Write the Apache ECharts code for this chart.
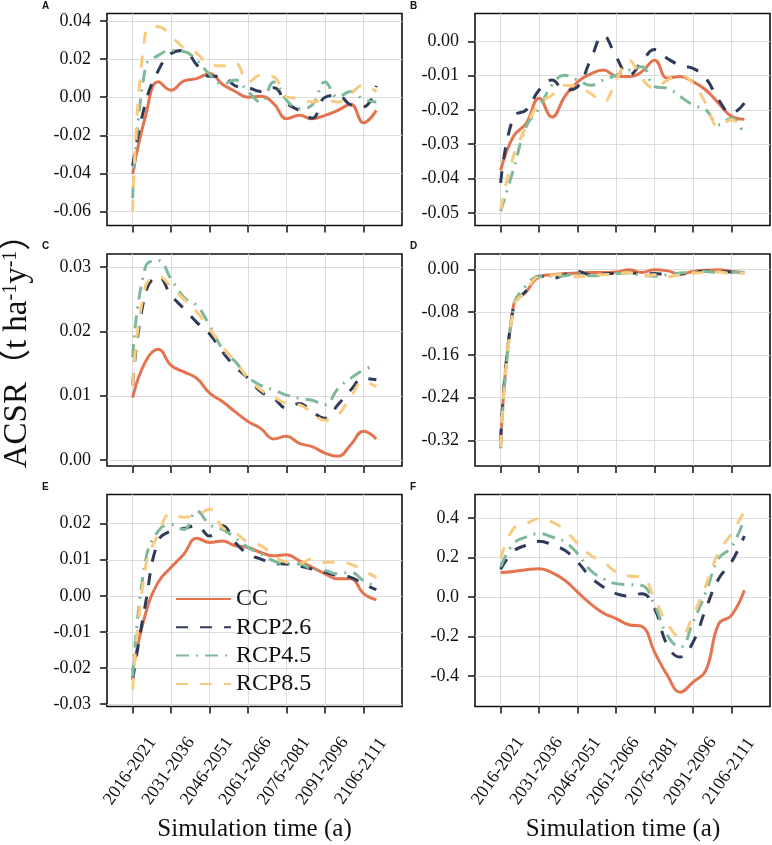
<!DOCTYPE html>
<html>
<head>
<meta charset="utf-8">
<script src="https://cdn.jsdelivr.net/npm/echarts@6/dist/echarts.min.js"></script>
<style>
html,body{margin:0;padding:0;background:#fff;}
#chart{width:772px;height:845px;}
</style>
</head>
<body>
<div id="chart"></div>
<script>
// ---------- data ----------
const categories = ['2016-2021','2021-2026','2026-2031','2031-2036','2036-2041','2041-2046','2046-2051','2051-2056','2056-2061','2061-2066','2066-2071','2071-2076','2076-2081','2081-2086','2086-2091','2091-2096','2096-2101','2101-2106','2106-2111','2111-2116'];
const xTickIndex = [0,3,6,9,12,15,18];
const seriesNames = ['CC','RCP2.6','RCP4.5','RCP8.5'];

// Panel A
const A_CC   = [-0.0403,-0.0100,0.0081,0.0037,0.0086,0.0098,0.0125,0.0068,0.0030,0.0000,0.0005,-0.0033,-0.0113,-0.0095,-0.0113,-0.0095,-0.0069,-0.0037,-0.0134,-0.0069];
const A_R26  = [-0.0360,-0.0030,0.0140,0.0230,0.0245,0.0170,0.0110,0.0110,0.0060,0.0050,0.0030,0.0050,-0.0030,-0.0070,-0.0110,0.0000,0.0010,-0.0040,-0.0050,0.0060];
const A_R45  = [-0.0530,0.0160,0.0220,0.0245,0.0240,0.0195,0.0120,0.0070,0.0090,0.0030,-0.0025,0.0080,-0.0016,-0.0060,-0.0040,0.0080,0.0000,0.0030,-0.0010,-0.0025];
const A_R85  = [-0.0600,0.0340,0.0370,0.0320,0.0260,0.0230,0.0170,0.0165,0.0180,0.0080,0.0116,0.0107,0.0002,-0.0007,-0.0025,-0.0016,-0.0025,0.0019,0.0063,0.0028];
// Panel B
const B_CC   = [-0.0376,-0.0277,-0.0239,-0.0166,-0.0221,-0.0161,-0.0118,-0.0096,-0.0084,-0.0101,-0.0103,-0.0089,-0.0055,-0.0108,-0.0103,-0.0118,-0.0142,-0.0181,-0.0219,-0.0227];
const B_R26  = [-0.0413,-0.0220,-0.0200,-0.0142,-0.0113,-0.0142,-0.0132,-0.0055,0.0017,-0.0045,-0.0099,-0.0060,-0.0024,-0.0050,-0.0070,-0.0079,-0.0108,-0.0171,-0.0210,-0.0180];
const B_R45  = [-0.0495,-0.0374,-0.0248,-0.0195,-0.0128,-0.0099,-0.0113,-0.0128,-0.0113,-0.0099,-0.0084,-0.0074,-0.0132,-0.0137,-0.0161,-0.0186,-0.0200,-0.0243,-0.0224,-0.0277];
const B_R85  = [-0.0490,-0.0335,-0.0248,-0.0181,-0.0157,-0.0128,-0.0132,-0.0152,-0.0176,-0.0113,-0.0055,-0.0108,-0.0137,-0.0113,-0.0099,-0.0123,-0.0181,-0.0248,-0.0229,-0.0263];
// Panel C
const C_CC   = [0.0097,0.0153,0.0172,0.0147,0.0137,0.0127,0.0104,0.0091,0.0075,0.0060,0.0049,0.0033,0.0037,0.0026,0.0021,0.0011,0.0006,0.0024,0.0045,0.0033];
const C_R26  = [0.0116,0.0260,0.0285,0.0256,0.0235,0.0214,0.0196,0.0168,0.0145,0.0127,0.0106,0.0096,0.0081,0.0088,0.0075,0.0065,0.0086,0.0109,0.0127,0.0125];
const C_R45  = [0.0160,0.0300,0.0310,0.0281,0.0253,0.0240,0.0209,0.0173,0.0153,0.0129,0.0116,0.0109,0.0101,0.0096,0.0093,0.0086,0.0111,0.0127,0.0140,0.0147];
const C_R85  = [0.0116,0.0270,0.0285,0.0269,0.0250,0.0230,0.0204,0.0176,0.0153,0.0127,0.0109,0.0098,0.0088,0.0086,0.0073,0.0062,0.0070,0.0098,0.0122,0.0114];
// Panel D
const D_CC   = [-0.330,-0.068,-0.042,-0.014,-0.010,-0.008,-0.007,-0.006,-0.006,-0.005,-0.001,-0.006,-0.001,-0.003,-0.009,-0.004,-0.002,-0.001,-0.004,-0.006];
const D_R26  = [-0.320,-0.070,-0.040,-0.013,-0.017,-0.010,-0.004,-0.010,-0.009,-0.007,-0.006,-0.009,-0.008,-0.010,-0.009,-0.006,-0.003,-0.004,-0.005,-0.006];
const D_R45  = [-0.335,-0.070,-0.030,-0.014,-0.013,-0.012,-0.008,-0.012,-0.011,-0.008,-0.007,-0.011,-0.013,-0.010,-0.007,-0.005,-0.004,-0.006,-0.005,-0.006];
const D_R85  = [-0.332,-0.072,-0.040,-0.013,-0.011,-0.009,-0.014,-0.011,-0.010,-0.009,-0.006,-0.013,-0.010,-0.014,-0.010,-0.007,-0.006,-0.005,-0.008,-0.007];
// Panel E
const E_CC   = [-0.0210,-0.0050,0.0038,0.0079,0.0116,0.0160,0.0148,0.0152,0.0139,0.0134,0.0120,0.0111,0.0114,0.0097,0.0079,0.0061,0.0047,0.0047,0.0006,-0.0011];
const E_R26  = [-0.0233,-0.0022,0.0152,0.0180,0.0187,0.0194,0.0166,0.0194,0.0148,0.0116,0.0102,0.0090,0.0088,0.0083,0.0074,0.0065,0.0056,0.0051,0.0033,0.0017];
const E_R45  = [-0.0224,0.0097,0.0180,0.0198,0.0184,0.0235,0.0198,0.0184,0.0161,0.0134,0.0116,0.0097,0.0088,0.0088,0.0074,0.0070,0.0061,0.0065,0.0042,0.0026];
const E_R85  = [-0.0260,0.0079,0.0171,0.0228,0.0218,0.0224,0.0240,0.0189,0.0175,0.0148,0.0139,0.0111,0.0093,0.0090,0.0102,0.0093,0.0093,0.0088,0.0070,0.0051];
// Panel F
const F_CC   = [0.124,0.130,0.139,0.144,0.124,0.085,0.025,-0.034,-0.081,-0.110,-0.141,-0.149,-0.280,-0.398,-0.483,-0.432,-0.373,-0.136,-0.093,0.034];
const F_R26  = [0.141,0.232,0.263,0.283,0.266,0.237,0.178,0.102,0.051,0.017,0.005,0.017,-0.059,-0.246,-0.305,-0.229,-0.059,0.093,0.178,0.310];
const F_R45  = [0.153,0.271,0.305,0.322,0.305,0.280,0.220,0.136,0.093,0.068,0.063,0.059,-0.042,-0.195,-0.254,-0.127,0.025,0.195,0.254,0.398];
const F_R85  = [0.195,0.347,0.373,0.398,0.381,0.339,0.271,0.212,0.178,0.127,0.107,0.102,-0.008,-0.136,-0.203,-0.093,0.059,0.229,0.322,0.436];

// y tick values per panel
const yTicksA = [-0.06,-0.04,-0.02,0,0.02,0.04];
const yTicksB = [-0.05,-0.04,-0.03,-0.02,-0.01,0];
const yTicksC = [0,0.01,0.02,0.03];
const yTicksD = [-0.32,-0.24,-0.16,-0.08,0];
const yTicksE = [-0.03,-0.02,-0.01,0,0.01,0.02];
const yTicksF = [-0.4,-0.2,0,0.2,0.4];

// ---------- layout / style ----------
const panels = [
  {letter:'A', data:[A_CC,A_R26,A_R45,A_R85], ticks:yTicksA, min:-0.0674, max:0.0440, dec:2, left:107, top:13.5, showX:false},
  {letter:'B', data:[B_CC,B_R26,B_R45,B_R85], ticks:yTicksB, min:-0.0537, max:0.0081, dec:2, left:475, top:13.5, showX:false},
  {letter:'C', data:[C_CC,C_R26,C_R45,C_R85], ticks:yTicksC, min:-0.0009, max:0.0320, dec:2, left:107, top:254, showX:false},
  {letter:'D', data:[D_CC,D_R26,D_R45,D_R85], ticks:yTicksD, min:-0.368, max:0.0286, dec:2, left:475, top:254, showX:false},
  {letter:'E', data:[E_CC,E_R26,E_R45,E_R85], ticks:yTicksE, min:-0.0307, max:0.0281, dec:2, left:107, top:494.5, showX:true},
  {letter:'F', data:[F_CC,F_R26,F_R45,F_R85], ticks:yTicksF, min:-0.556, max:0.5206, dec:1, left:475, top:494.5, showX:true}
];
const PW = 295, PH = 212;
const colors = ['#E4744F','#2F3B5B','#7EB999','#F8CB7F'];
const dashes = ['solid',[12,12],[13,7,2,7],[12,12]];
const SERIF = 'Liberation Serif';

const grids = [], xAxes = [], yAxes = [], series = [], graphics = [];
panels.forEach((p, k) => {
  grids.push({left:p.left, top:p.top, width:PW, height:PH, show:true, borderColor:'#111', borderWidth:1.6, backgroundColor:'transparent', containLabel:false});
  xAxes.push({
    type:'value', gridIndex:k, min:-2, max:21, position:'bottom',
    axisLine:{show:false, onZero:false},
    axisTick:{show:true, customValues:xTickIndex, length:7, lineStyle:{color:'#111', width:1.5}},
    axisLabel:{show:p.showX, customValues:xTickIndex, rotate:55, align:'center', verticalAlign:'middle',
      padding:[0,9,13,0], margin:61, fontFamily:SERIF, fontSize:18, color:'#111',
      formatter:v => categories[Math.round(v)]},
    splitLine:{show:true, lineStyle:{color:'#dcdcdc', width:1}}
  });
  yAxes.push({
    type:'value', gridIndex:k, min:p.min, max:p.max, position:'left',
    axisLine:{show:false, onZero:false},
    axisTick:{show:true, customValues:p.ticks, length:7, lineStyle:{color:'#111', width:1.5}},
    axisLabel:{show:true, customValues:p.ticks, margin:16, fontFamily:SERIF, fontSize:18, color:'#111',
      formatter:v => { let s = Number(v).toFixed(p.dec); if (/^-0\.0+$/.test(s)) s = s.slice(1); return s; }},
    splitLine:{show:true, lineStyle:{color:'#dcdcdc', width:1}}
  });
  p.data.forEach((arr, j) => {
    series.push({
      name:seriesNames[j], type:'line', xAxisIndex:k, yAxisIndex:k,
      data:arr.map((v,i) => [i, v]), smooth:0.45, symbol:'none',
      lineStyle:{color:colors[j], width:3, type:dashes[j]},
      itemStyle:{color:colors[j]}, z:2+j
    });
  });
  graphics.push({type:'text', x:p.left - 65, y:p.top - 7.5,
    style:{text:p.letter, font:'bold 10px "Liberation Sans", Arial, sans-serif', fill:'#111', align:'left', verticalAlign:'middle'}});
});

graphics.push({type:'text', x:254.5, y:829, style:{text:'Simulation time (a)', fontFamily:SERIF, fontSize:25, fill:'#111', align:'center', verticalAlign:'middle'}});
graphics.push({type:'text', x:623, y:829, style:{text:'Simulation time (a)', fontFamily:SERIF, fontSize:25, fill:'#111', align:'center', verticalAlign:'middle'}});
graphics.push({type:'text', x:17, y:343, rotation:Math.PI/2,
  style:{text:'ACSR（t ha{sup|-1}y{sup|-1}）', fontFamily:'Liberation Serif, Noto Sans CJK SC, serif', fontSize:33, fill:'#111',
    align:'center', verticalAlign:'middle',
    rich:{sup:{fontFamily:SERIF, fontSize:20, verticalAlign:'top', fill:'#111'}}}});

const option = {
  animation:false,
  backgroundColor:'#fff',
  textStyle:{fontFamily:SERIF},
  grid:grids, xAxis:xAxes, yAxis:yAxes, series:series,
  legend:{
    data:seriesNames, orient:'vertical', left:175, top:587, padding:0, itemWidth:55, itemHeight:14, itemGap:4.3,
    textStyle:{fontFamily:SERIF, fontSize:24, color:'#111'},
    itemStyle:{opacity:0, color:'transparent', borderWidth:0}
  },
  graphic:graphics
};
const chart = echarts.init(document.getElementById('chart'), null, {renderer:'canvas'});
chart.setOption(option);
</script>
</body>
</html>
